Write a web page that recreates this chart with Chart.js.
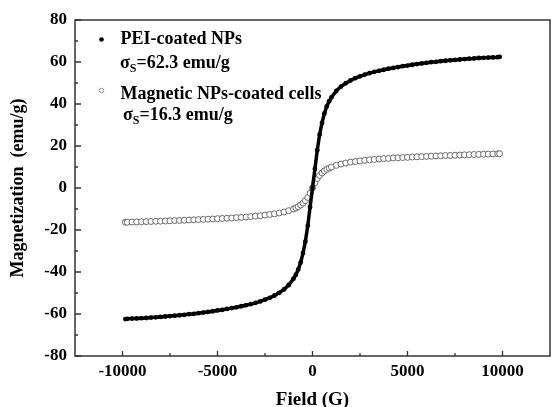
<!DOCTYPE html>
<html><head><meta charset="utf-8">
<script src="https://cdn.jsdelivr.net/npm/chart.js@4.4.1/dist/chart.umd.min.js"></script>
<style>html,body{margin:0;padding:0;background:#fff;} #c{display:block;}</style>
</head><body>
<canvas id="c" width="555" height="407"></canvas>
<script>
// Field (G)
const fields = [-9850,-9750,-9500,-9250,-9000,-8750,-8500,-8250,-8000,-7750,-7500,-7250,-7000,-6750,-6500,-6250,-6000,-5750,-5500,-5250,-5000,-4750,-4500,-4250,-4000,-3750,-3500,-3250,-3000,-2750,-2500,-2250,-2000,-1750,-1500,-1250,-1000,-875,-750,-625,-500,-375,-250,-125,
0,
125,250,375,500,625,750,875,1000,1250,1500,1750,2000,2250,2500,2750,3000,3250,3500,3750,4000,4250,4500,4750,5000,5250,5500,5750,6000,6250,6500,6750,7000,7250,7500,7750,8000,8250,8500,8750,9000,9250,9500,9750,9850];
// Magnetization (emu/g) - PEI-coated NPs
const peiNPs = [-62.4,-62.3,-62.2,-62.1,-62,-61.9,-61.7,-61.6,-61.4,-61.2,-61,-60.8,-60.6,-60.4,-60.1,-59.9,-59.6,-59.3,-59,-58.7,-58.3,-58,-57.6,-57.2,-56.8,-56.3,-55.8,-55.3,-54.7,-54,-53.2,-52.3,-51.2,-49.9,-48.3,-46.2,-43.2,-41.3,-38.8,-35.5,-31,-25.5,-18,-9,
0,
9,18,25.5,31,35.5,38.8,41.3,43.2,46.2,48.3,49.9,51.2,52.3,53.2,54,54.7,55.3,55.8,56.3,56.8,57.2,57.6,58,58.3,58.7,59,59.3,59.6,59.9,60.1,60.4,60.6,60.8,61,61.2,61.4,61.6,61.7,61.9,62,62.1,62.2,62.3,62.4];
// Magnetization (emu/g) - Magnetic NPs-coated cells
const coatedCells = [-16.3,-16.3,-16.2,-16.15,-16.1,-16,-15.95,-15.85,-15.8,-15.7,-15.6,-15.5,-15.45,-15.35,-15.25,-15.15,-15.05,-14.95,-14.85,-14.75,-14.6,-14.5,-14.4,-14.3,-14.1,-14,-13.8,-13.6,-13.4,-13.2,-12.9,-12.6,-12.3,-11.9,-11.4,-10.8,-10,-9.5,-8.9,-8.1,-7.2,-6,-4.5,-2.5,
0,
2.5,4.5,6,7.2,8.1,8.9,9.5,10,10.8,11.4,11.9,12.3,12.6,12.9,13.2,13.4,13.6,13.8,14,14.1,14.3,14.4,14.5,14.6,14.75,14.85,14.95,15.05,15.15,15.25,15.35,15.45,15.5,15.6,15.7,15.8,15.85,15.95,16,16.1,16.15,16.2,16.3,16.3];

const xTickValues = [-10000,-5000,0,5000,10000];
const xMinorTicks = [-7500,-2500,2500,7500];
const yTickValues = [-80,-60,-40,-20,0,20,40,60,80];
const yMinorTicks = [-70,-50,-30,-10,10,30,50,70];
const seriesNames = ['PEI-coated NPs','Magnetic NPs-coated cells'];
const satLabels = ['=62.3 emu/g','=16.3 emu/g'];
const xTitle = 'Field (G)';
const yTitle = 'Magnetization  (emu/g)';

const SERIF = '"Liberation Serif", "Times New Roman", serif';

const framePlugin = {
  id: 'frame',
  afterDatasetsDraw(chart) {
    const {ctx, chartArea: a, scales} = chart;
    ctx.save();
    ctx.strokeStyle = '#333';
    ctx.lineWidth = 1.5;
    ctx.strokeRect(a.left, a.top, a.right - a.left, a.bottom - a.top);
    ctx.lineWidth = 1.3;
    ctx.beginPath();
    const xs = scales.x, ys = scales.y;
    xTickValues.forEach(v => { const p = xs.getPixelForValue(v); ctx.moveTo(p, a.bottom); ctx.lineTo(p, a.bottom - 5); });
    xMinorTicks.forEach(v => { const p = xs.getPixelForValue(v); ctx.moveTo(p, a.bottom); ctx.lineTo(p, a.bottom - 3); });
    yTickValues.forEach(v => { const p = ys.getPixelForValue(v); ctx.moveTo(a.left, p); ctx.lineTo(a.left + 6, p); });
    yMinorTicks.forEach(v => { const p = ys.getPixelForValue(v); ctx.moveTo(a.left, p); ctx.lineTo(a.left + 3, p); });
    ctx.stroke();
    ctx.restore();
  },
  afterDraw(chart) {
    const ctx = chart.ctx;
    ctx.save();
    ctx.fillStyle = '#000';
    ctx.textBaseline = 'alphabetic';
    ctx.textAlign = 'left';
    const big = 'bold 18px ' + SERIF, small = 'bold 12px ' + SERIF;
    ctx.beginPath(); ctx.arc(101.5, 39.5, 2.3, 0, Math.PI * 2); ctx.fill();
    ctx.font = big; ctx.fillText(seriesNames[0], 120.5, 44);
    const sigma = (x, y, txt) => {
      ctx.font = big; ctx.fillText('σ', x, y);
      let w = ctx.measureText('σ').width;
      ctx.font = small; ctx.fillText('S', x + w, y + 4);
      w += ctx.measureText('S').width;
      ctx.font = big; ctx.fillText(txt, x + w, y);
    };
    sigma(120, 68, satLabels[0]);
    ctx.beginPath(); ctx.arc(101.5, 90.5, 2.3, 0, Math.PI * 2);
    ctx.fillStyle = '#fff'; ctx.fill();
    ctx.strokeStyle = '#999'; ctx.lineWidth = 1; ctx.stroke();
    ctx.fillStyle = '#000';
    ctx.font = big; ctx.fillText(seriesNames[1], 120.5, 99);
    sigma(123, 120, satLabels[1]);
    ctx.restore();
  }
};

new Chart(document.getElementById('c'), {
  type: 'scatter',
  data: {
    datasets: [
      {
        label: seriesNames[0],
        data: fields.map((f, i) => ({x: f, y: peiNPs[i]})),
        showLine: true,
        borderColor: '#000',
        borderWidth: 3.5,
        backgroundColor: '#000',
        pointRadius: 2.4,
        pointBorderWidth: 0,
        pointBackgroundColor: '#000',
        tension: 0
      },
      {
        label: seriesNames[1],
        data: fields.map((f, i) => ({x: f, y: coatedCells[i]})),
        showLine: true,
        borderColor: '#777',
        borderWidth: 1.5,
        pointRadius: 3,
        pointBorderWidth: 1,
        pointBorderColor: '#6a6a6a',
        pointBackgroundColor: '#fff',
        tension: 0
      }
    ]
  },
  options: {
    responsive: false,
    animation: false,
    devicePixelRatio: 1,
    layout: {padding: {top: 20, right: 2, bottom: 0, left: 0}},
    plugins: {legend: {display: false}, tooltip: {enabled: false}},
    scales: {
      x: {
        type: 'linear', min: -12500, max: 12500,
        afterBuildTicks: s => { s.ticks = xTickValues.map(v => ({value: v})); },
        afterFit: s => { s.height = 51; },
        grid: {display: false, drawTicks: false},
        border: {display: false},
        ticks: {color: '#000', padding: 5, maxRotation: 0, callback: v => String(v), font: {family: SERIF, size: 17, weight: 'bold'}},
        title: {display: true, text: xTitle, color: '#000', padding: {top: 0, bottom: -3}, font: {family: SERIF, size: 19, weight: 'bold', lineHeight: 1}}
      },
      y: {
        type: 'linear', min: -80, max: 80,
        afterBuildTicks: s => { s.ticks = yTickValues.map(v => ({value: v})); },
        afterFit: s => { s.width = 75; },
        grid: {display: false, drawTicks: false},
        border: {display: false},
        ticks: {color: '#000', padding: 8, callback: v => String(v), font: {family: SERIF, size: 17, weight: 'bold'}},
        title: {display: true, text: yTitle, color: '#000', padding: {top: 9, bottom: 0}, font: {family: SERIF, size: 18, weight: 'bold', lineHeight: 1}}
      }
    }
  },
  plugins: [framePlugin]
});
</script>
</body></html>
